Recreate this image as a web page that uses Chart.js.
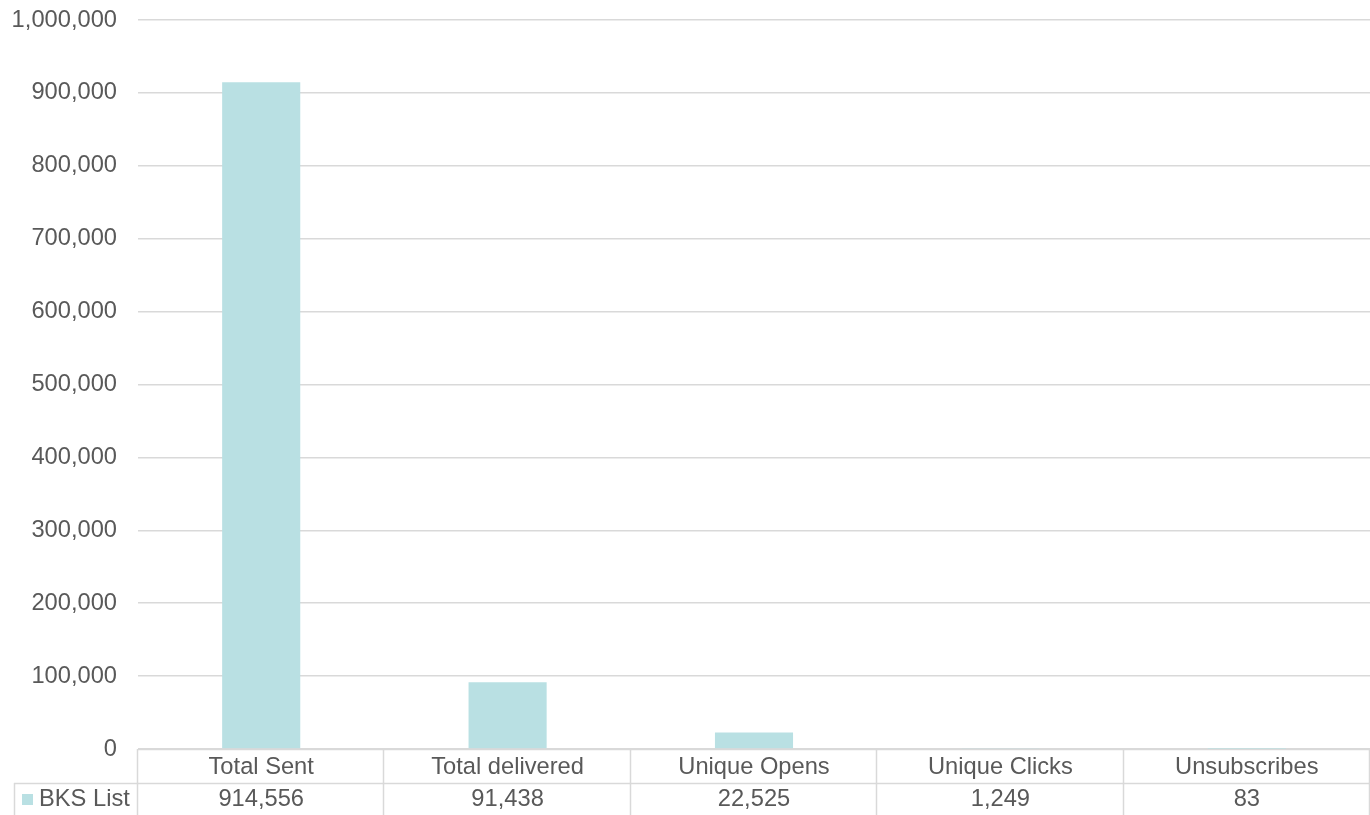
<!DOCTYPE html>
<html>
<head>
<meta charset="utf-8">
<script src="https://cdn.jsdelivr.net/npm/chart.js@4/dist/chart.umd.min.js"></script>
<style>
  html, body { margin: 0; padding: 0; background: #fff; }
  #wrap { width: 1370px; height: 815px; }
</style>
</head>
<body>
<div id="wrap"><canvas id="chart" width="1370" height="815"></canvas></div>
<script>
// Chart data
const categories = ['Total Sent', 'Total delivered', 'Unique Opens', 'Unique Clicks', 'Unsubscribes'];
const seriesName = 'BKS List';
const seriesValues = [914556, 91438, 22525, 1249, 83];

const textColor = '#595959';
const lineColor = '#d9d9d9';
const barColor = '#b9e0e3';
const fontFamily = 'Arial, "Liberation Sans", sans-serif';
const fontSize = 23.7;

function fmt(v) {
    return v.toLocaleString('en-US');
}

// Draws the Excel-style data table under the plot area
const dataTablePlugin = {
    id: 'dataTable',
    afterDraw(chart) {
        const ctx = chart.ctx;
        const area = chart.chartArea;
        const xScale = chart.scales.x;
        const n = categories.length;
        const step = (area.right - area.left) / n;
        const top = area.bottom;
        const mid = top + 34;
        const bottom = chart.height + 5;

        ctx.save();
        ctx.strokeStyle = lineColor;
        ctx.lineWidth = 1.5;

        // horizontal lines
        ctx.beginPath();
        ctx.moveTo(area.left, top + 0.5);
        ctx.lineTo(area.right, top + 0.5);
        ctx.moveTo(14, mid + 0.5);
        ctx.lineTo(area.right, mid + 0.5);
        // vertical lines
        for (let i = 0; i <= n; i++) {
            const x = Math.round(area.left + i * step) - 0.5;
            ctx.moveTo(x, top);
            ctx.lineTo(x, bottom);
        }
        ctx.moveTo(14.5, mid);
        ctx.lineTo(14.5, bottom);
        ctx.stroke();

        ctx.fillStyle = textColor;
        ctx.font = fontSize + 'px ' + fontFamily;
        ctx.textAlign = 'center';
        ctx.textBaseline = 'middle';
        categories.forEach((c, i) => {
            const x = xScale.getPixelForValue(i);
            ctx.fillText(c, x, top + 18);
            ctx.fillText(fmt(seriesValues[i]), x, mid + 16);
        });

        // legend key
        ctx.fillStyle = barColor;
        ctx.fillRect(22, mid + 11, 11, 11);
        ctx.fillStyle = textColor;
        ctx.textAlign = 'left';
        ctx.fillText(seriesName, 39, mid + 16);
        ctx.restore();
    }
};

const ctx = document.getElementById('chart').getContext('2d');
new Chart(ctx, {
    type: 'bar',
    data: {
        labels: categories,
        datasets: [{
            label: seriesName,
            data: seriesValues,
            backgroundColor: barColor,
            borderWidth: 0,
            barPercentage: 0.317,
            categoryPercentage: 1.0
        }]
    },
    options: {
        responsive: false,
        animation: false,
        layout: { padding: { top: 20, right: 0, bottom: 66, left: 0 } },
        plugins: {
            legend: { display: false },
            tooltip: { enabled: false }
        },
        scales: {
            x: {
                display: false
            },
            y: {
                min: 0,
                max: 1000000,
                afterFit(scale) {
                    scale.width = 138;
                    scale.paddingTop = 0;
                    scale.paddingBottom = 0;
                },
                ticks: {
                    stepSize: 100000,
                    padding: 21,
                    color: textColor,
                    font: { family: fontFamily, size: fontSize },
                    callback: (v) => fmt(v)
                },
                grid: {
                    color: lineColor,
                    lineWidth: 1.5,
                    drawTicks: false
                },
                border: { display: false }
            }
        }
    },
    plugins: [dataTablePlugin]
});
</script>
</body>
</html>
